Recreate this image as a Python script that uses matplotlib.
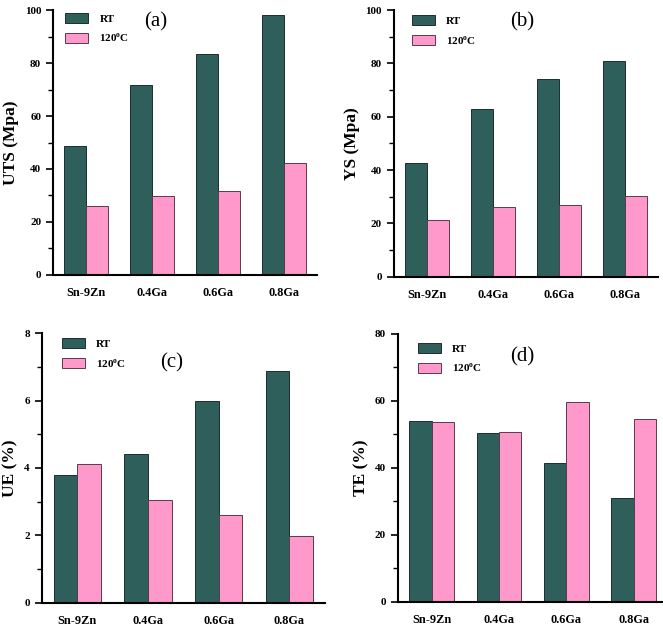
import matplotlib
matplotlib.use("Agg")
import matplotlib.pyplot as plt
import numpy as np

categories = ["Sn-9Zn", "0.4Ga", "0.6Ga", "0.8Ga"]
series_names = ["RT", r"120$^{\mathbf{o}}$C"]

uts_rt = [48.6, 71.6, 83.5, 98.0]
uts_120 = [26.2, 29.9, 31.6, 42.3]
ys_rt = [42.8, 63.1, 74.1, 81.0]
ys_120 = [21.3, 26.1, 26.9, 30.4]
ue_rt = [3.80, 4.41, 5.98, 6.89]
ue_120 = [4.12, 3.06, 2.62, 1.98]
te_rt = [53.9, 50.3, 41.4, 30.9]
te_120 = [53.7, 50.8, 59.5, 54.6]

ylabels = ["UTS (Mpa)", "YS (Mpa)", "UE (%)", "TE (%)"]
panel_tags = ["(a)", "(b)", "(c)", "(d)"]
yticks_major = [[0, 20, 40, 60, 80, 100], [0, 20, 40, 60, 80, 100], [0, 2, 4, 6, 8], [0, 20, 40, 60, 80]]

plt.rcParams['font.family'] = ['Liberation Serif', 'DejaVu Serif']
plt.rcParams['mathtext.fontset'] = 'custom'
plt.rcParams['mathtext.rm'] = 'Liberation Serif'
plt.rcParams['mathtext.bf'] = 'Liberation Serif:bold'

c_rt = "#2F5F5B"
c_hot = "#FF99CC"

fig = plt.figure(figsize=(6.63, 6.32), dpi=100)

positions = [
    [0.080, 0.565, 0.398, 0.419],
    [0.594, 0.562, 0.398, 0.422],
    [0.063, 0.046, 0.427, 0.427],
    [0.600, 0.0475, 0.407, 0.4245],
]
tag_pos = [(0.39, 0.955), (0.485, 0.955), (0.46, 0.89), (0.46, 0.914)]
leg_pos = [(0.045, 0.99), (0.068, 0.98), (0.07, 0.98), (0.074, 0.966)]

data = [(uts_rt, uts_120), (ys_rt, ys_120), (ue_rt, ue_120), (te_rt, te_120)]

x = np.arange(len(categories))
w = 1/3
for i, (pos, (rt, hot)) in enumerate(zip(positions, data)):
    ax = fig.add_axes(pos)
    ax.bar(x - w/2, rt, width=w, color=c_rt, edgecolor="#1e2e2e", linewidth=0.7, label=series_names[0])
    ax.bar(x + w/2, hot, width=w, color=c_hot, edgecolor="#5a3a4a", linewidth=0.7, label=series_names[1])
    ax.set_xlim(-0.5, 3.5)
    yt = yticks_major[i]
    ax.set_ylim(0, yt[-1])
    ax.set_yticks(yt)
    step = yt[1] - yt[0]
    ax.set_yticks(np.arange(step/2, yt[-1], step), minor=True)
    ax.set_xticks(x)
    ax.set_xticklabels(categories, fontsize=8.8, fontweight='bold')
    ax.tick_params(axis='x', length=0, pad=9)
    ax.tick_params(axis='y', which='major', length=5, width=1.2, labelsize=8, direction='out')
    ax.tick_params(axis='y', which='minor', length=3.5, width=1.0, direction='out')
    for lab in ax.get_yticklabels():
        lab.set_fontweight('bold')
    ax.spines['top'].set_visible(False)
    ax.spines['right'].set_visible(False)
    ax.spines['left'].set_linewidth(1.5)
    ax.spines['bottom'].set_linewidth(1.5)
    ax.set_ylabel(ylabels[i], fontsize=12.5, fontweight='bold', labelpad=4)
    ax.text(tag_pos[i][0], tag_pos[i][1], panel_tags[i], transform=ax.transAxes,
            fontsize=15, ha='center', va='center')
    leg = ax.legend(loc='upper left', bbox_to_anchor=leg_pos[i], frameon=False,
                    prop={'size': 8, 'weight': 'bold'}, handlelength=2.1, handleheight=1.0,
                    handletextpad=1.0, labelspacing=0.7, borderpad=0, borderaxespad=0)

fig.savefig("out.png", dpi=100)
